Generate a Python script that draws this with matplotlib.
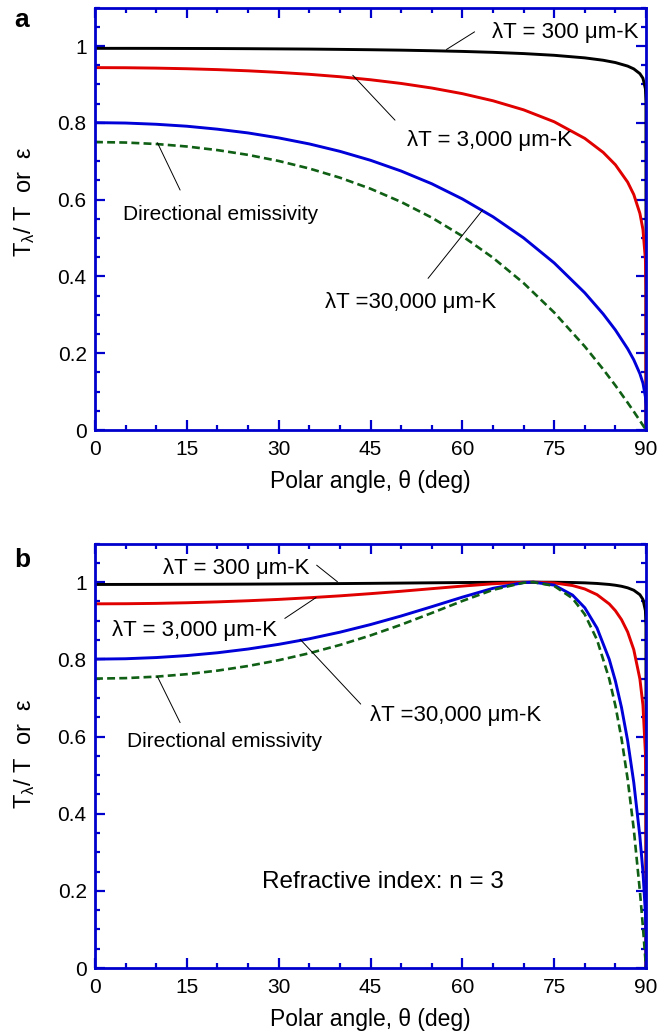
import matplotlib
matplotlib.use('Agg')
import matplotlib.pyplot as plt
from matplotlib.ticker import FixedLocator, MultipleLocator, FuncFormatter

# STYLE
plt.rcParams.update({
    'font.family': 'Liberation Sans',
    'mathtext.fontset': 'custom',
    'mathtext.rm': 'Liberation Sans',
    'mathtext.it': 'Liberation Sans',
    'mathtext.default': 'regular',
})
SPINE = '#0000cc'
RED = '#e00000'
BLUE = '#0000d8'
GREEN = '#0f5f14'

# DATA - panel a
theta_a = [0, 5, 10, 15, 20, 25, 30, 35, 40, 45, 50, 55, 60, 65, 70, 75, 80,
           83, 85, 87, 88, 89, 89.5, 89.9, 89.99, 90]
ratio_300_a = [0.994, 0.994, 0.9939, 0.9937, 0.9935, 0.9931, 0.9926, 0.9921,
               0.9913, 0.9904, 0.9893, 0.9878, 0.986, 0.9836, 0.9804, 0.9759,
               0.9692, 0.963, 0.957, 0.9478, 0.9405, 0.9281, 0.9161, 0.8887,
               0.8524, 0.0]
ratio_3000_a = [0.9438, 0.9435, 0.9425, 0.9409, 0.9386, 0.9355, 0.9314, 0.9264,
                0.9201, 0.9122, 0.9026, 0.8907, 0.876, 0.8575, 0.8339, 0.8028,
                0.7595, 0.7231, 0.6908, 0.6456, 0.6133, 0.5642, 0.5223, 0.4444,
                0.3663, 0.0]
ratio_30000_a = [0.8005, 0.7995, 0.7963, 0.7912, 0.7835, 0.7737, 0.7608, 0.7451,
                 0.7258, 0.7025, 0.6745, 0.6414, 0.6018, 0.5554, 0.5004, 0.4352,
                 0.3573, 0.3023, 0.2605, 0.2117, 0.1829, 0.1468, 0.1221, 0.0868,
                 0.0613, 0.0]
emiss_a = [0.75, 0.7487, 0.7449, 0.7384, 0.729, 0.7166, 0.7007, 0.6811, 0.6572,
           0.6284, 0.594, 0.5532, 0.505, 0.4487, 0.3828, 0.3061, 0.2176, 0.1583,
           0.116, 0.0713, 0.0482, 0.0244, 0.0123, 0.0025, 0.0002, 0.0]

# DATA - panel b
theta_b = [0, 5, 10, 15, 20, 25, 30, 35, 40, 45, 50, 55, 60, 65, 70, 71.6, 75,
           78, 80, 82, 84, 85, 86, 87, 88, 89, 89.5, 89.9, 89.99, 90]
ratio_300_b = [0.994, 0.9941, 0.9942, 0.9944, 0.9946, 0.9949, 0.9953, 0.9958,
               0.9963, 0.9969, 0.9976, 0.9983, 0.999, 0.9996, 1.0, 1.0, 0.9998,
               0.9991, 0.9982, 0.9966, 0.994, 0.992, 0.9893, 0.9853, 0.9791,
               0.9675, 0.9552, 0.9263, 0.8869, 0.0]
ratio_3000_b = [0.9438, 0.9441, 0.945, 0.9466, 0.9489, 0.9518, 0.9553, 0.9596,
                0.9645, 0.9702, 0.9764, 0.9831, 0.9898, 0.9958, 0.9997, 1.0,
                0.998, 0.9912, 0.9823, 0.9676, 0.9435, 0.926, 0.9028, 0.871,
                0.8251, 0.7491, 0.6812, 0.5574, 0.4397, 0.0]
ratio_30000_b = [0.8005, 0.8015, 0.8046, 0.8097, 0.817, 0.8267, 0.8388, 0.8532,
                 0.8703, 0.8901, 0.9123, 0.9364, 0.9611, 0.984, 0.9988, 1.0,
                 0.9923, 0.9665, 0.9336, 0.881, 0.7996, 0.7439, 0.6749, 0.5891,
                 0.481, 0.3406, 0.2492, 0.1425, 0.0851, 0.0]
emiss_b = [0.75, 0.7513, 0.7551, 0.7615, 0.7707, 0.7827, 0.7977, 0.8158, 0.8372,
           0.8619, 0.8897, 0.92, 0.9512, 0.98, 0.9985, 1.0, 0.9902, 0.958,
           0.9164, 0.8505, 0.7489, 0.6797, 0.5945, 0.4895, 0.3598, 0.1993,
           0.1052, 0.022, 0.0022, 0.0]

LABEL_300 = 'λT = 300 μm-K'
LABEL_3000 = 'λT = 3,000 μm-K'
LABEL_30000 = 'λT =30,000 μm-K'
LABEL_EMISS = 'Directional emissivity'
FS_NOTE = 16
FS_EMISS = 15


def style_axes(ax):
    ax.set_xlim(0, 90)
    ax.set_ylim(0, 1.1)
    ax.xaxis.set_major_locator(MultipleLocator(15))
    ax.xaxis.set_minor_locator(MultipleLocator(5))
    ax.yaxis.set_major_locator(FixedLocator([0, 0.2, 0.4, 0.6, 0.8, 1.0]))
    ax.yaxis.set_minor_locator(MultipleLocator(0.05))
    ax.yaxis.set_major_formatter(FuncFormatter(lambda v, p: f'{v:g}'))
    for sp in ax.spines.values():
        sp.set_color(SPINE)
        sp.set_linewidth(2.0)
    ax.tick_params(which='both', direction='in', top=True, right=True,
                   color=SPINE, labelcolor='black', labelsize=15)
    ax.tick_params(which='major', length=7, width=1.6)
    ax.tick_params(which='minor', length=3.8, width=1.6)
    ax.tick_params(axis='x', pad=7)
    ax.tick_params(axis='y', pad=6)
    ax.set_xlabel('Polar angle, θ (deg)', fontsize=16.5, labelpad=8)


def draw_curves(ax, theta, r300, r3000, r30000, emiss):
    ax.plot(theta, r300, color='black', lw=2.1)
    ax.plot(theta, r3000, color=RED, lw=2.1)
    ax.plot(theta, r30000, color=BLUE, lw=2.1)
    ax.plot(theta, emiss, color=GREEN, lw=1.9, dashes=(3.0, 1.6))


def leader(ax, p0, p1):
    ax.annotate('', xy=p0, xytext=p1,
                arrowprops=dict(arrowstyle='-', color='black', lw=0.7,
                                shrinkA=0, shrinkB=0))


fig = plt.figure(figsize=(6.7, 10.33), dpi=100)
ax_a = fig.add_axes([0.1418, 0.5837, 0.8224, 0.4089])
ax_b = fig.add_axes([0.1418, 0.0629, 0.8224, 0.4109])

# PANEL A
draw_curves(ax_a, theta_a, ratio_300_a, ratio_3000_a, ratio_30000_a, emiss_a)
style_axes(ax_a)
leader(ax_a, (57.4, 0.991), (62.0, 1.037))
ax_a.text(64.8, 1.035, LABEL_300, fontsize=FS_NOTE, va='center')
leader(ax_a, (42.1, 0.924), (49.0, 0.807))
ax_a.text(51.0, 0.755, LABEL_3000, fontsize=FS_NOTE, va='center')
leader(ax_a, (63.3, 0.573), (54.4, 0.395))
ax_a.text(37.6, 0.331, LABEL_30000, fontsize=FS_NOTE, va='center')
leader(ax_a, (10.2, 0.748), (13.9, 0.625))
ax_a.text(4.6, 0.5625, LABEL_EMISS, fontsize=FS_EMISS, va='center')

# PANEL B
draw_curves(ax_b, theta_b, ratio_300_b, ratio_3000_b, ratio_30000_b, emiss_b)
style_axes(ax_b)
leader(ax_b, (39.6, 1.001), (36.2, 1.044))
ax_b.text(11.1, 1.035, LABEL_300, fontsize=FS_NOTE, va='center')
leader(ax_b, (36.1, 0.960), (31.0, 0.906))
ax_b.text(2.7, 0.876, LABEL_3000, fontsize=FS_NOTE, va='center')
leader(ax_b, (33.5, 0.852), (43.4, 0.684))
ax_b.text(44.9, 0.655, LABEL_30000, fontsize=FS_NOTE, va='center')
leader(ax_b, (10.2, 0.755), (13.9, 0.636))
ax_b.text(5.2, 0.586, LABEL_EMISS, fontsize=FS_EMISS, va='center')
ax_b.text(27.3, 0.223, 'Refractive index: n = 3', fontsize=17.5, va='center')

# y labels and panel letters
ylab = 'T$_\\mathrm{\\lambda}$/ T  or  ε'
fig.text(25 / 670, 1 - 202 / 1033, ylab, rotation=90, ha='center', va='center', fontsize=17)
fig.text(25 / 670, 1 - 754 / 1033, ylab, rotation=90, ha='center', va='center', fontsize=17)
fig.text(14 / 670, 1 - 20 / 1033, 'a', fontsize=19, fontweight='bold', va='center')
fig.text(14 / 670, 1 - 560 / 1033, 'b', fontsize=19, fontweight='bold', va='center')

fig.savefig('out.png', dpi=100)
